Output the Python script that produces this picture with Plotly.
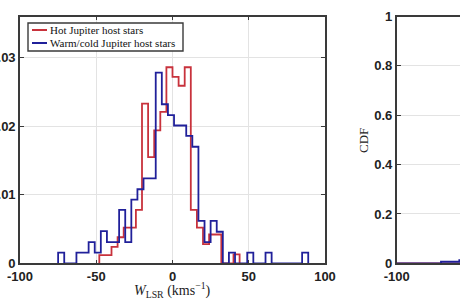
import numpy as np
import plotly.graph_objects as go

# ---------------- data ----------------
bin_width = 4
# Hot Jupiter host stars: left bin edges and density values
red_bin_left = list(range(-48, 44, 4))
red_density = [0.0012, 0.0012, 0.0024, 0.0038, 0.0052, 0.0052, 0.0078,
               0.0233, 0.0155, 0.0194, 0.0221, 0.0286, 0.0272, 0.0259,
               0.0286, 0.0078, 0.0052, 0.0028, 0.0042, 0.0042, 0.0,
               0.0, 0.0013]
# Warm/cold Jupiter host stars
blue_bin_left = list(range(-75, 89, 4))
blue_density = [0.00155, 0.0, 0.0, 0.00155, 0.00155, 0.0031, 0.00155,
                0.0047, 0.0031, 0.0031, 0.0078, 0.0031, 0.0093, 0.0108,
                0.0124, 0.0124, 0.0278, 0.0232, 0.0216, 0.0201, 0.0201,
                0.0186, 0.0170, 0.0062, 0.0031, 0.0062, 0.0046, 0.0,
                0.00155, 0.0, 0.0, 0.00155, 0.0, 0.0, 0.00155, 0.0,
                0.0, 0.0, 0.0, 0.0, 0.00155]

x_ticks = [-100, -50, 0, 50, 100]
x_ticktext = ["-100", "-50", "0", "50", "100"]
x2_ticks = [-100]
x2_ticktext = ["-100"]
y_ticks = [0, 0.01, 0.02, 0.03]
y_ticktext = ["0", "0.01", "0.02", "0.03"]
cdf_ticks = [0, 0.2, 0.4, 0.6, 0.8, 1]
cdf_ticktext = ["0", "0.2", "0.4", "0.6", "0.8", "1"]
legend_names = ["Hot Jupiter host stars", "Warm/cold Jupiter host stars"]

RED = "#c8323c"
BLUE = "#20209a"
AX = "#3a3a3a"
GRID = "#e3e3e3"
W, H = 460, 307


def stairs(lefts, vals):
    edges = list(lefts) + [lefts[-1] + bin_width]
    xs = [edges[0]] + list(lefts) + [edges[-1]]
    ys = [0] + list(vals) + [0]
    return xs, ys


def cdf(lefts, vals):
    edges = list(lefts) + [lefts[-1] + bin_width]
    c = np.cumsum(np.array(vals) * bin_width)
    c = c / c[-1]
    xs = [-100] + edges + [100]
    ys = [0, 0] + list(c) + [1]
    return xs, ys


fig = go.Figure()

rx, ry = stairs(red_bin_left, red_density)
bx, by = stairs(blue_bin_left, blue_density)
fig.add_trace(go.Scatter(x=rx, y=ry, mode="lines", line=dict(color=RED, width=1.8, shape="hv"),
                         name=legend_names[0], showlegend=False, xaxis="x", yaxis="y"))
fig.add_trace(go.Scatter(x=bx, y=by, mode="lines", line=dict(color=BLUE, width=1.8, shape="hv"),
                         name=legend_names[1], showlegend=False, xaxis="x", yaxis="y"))

crx, cry = cdf(red_bin_left, red_density)
cbx, cby = cdf(blue_bin_left, blue_density)
fig.add_trace(go.Scatter(x=crx, y=cry, mode="lines", line=dict(color=RED, width=1.8, shape="hv"),
                         showlegend=False, xaxis="x2", yaxis="y2"))
fig.add_trace(go.Scatter(x=cbx, y=cby, mode="lines", line=dict(color=BLUE, width=1.8, shape="hv"),
                         showlegend=False, xaxis="x2", yaxis="y2"))

tickfont = dict(family="Liberation Sans, Arial", size=13, color="#222222", weight="bold")
ydom = [1 - 263.3 / H, 1 - 16.5 / H]

common = dict(showline=True, linecolor=AX, linewidth=1.6, ticks="inside", ticklen=4,
              tickcolor=AX, tickwidth=1, gridcolor=GRID, gridwidth=1, zeroline=False,
              tickfont=tickfont, automargin=False, showgrid=True)

fig.update_layout(
    template="none",
    width=W, height=H, margin=dict(l=0, r=0, t=0, b=0, pad=0, autoexpand=False),
    paper_bgcolor="white", plot_bgcolor="white",
    xaxis=dict(domain=[20 / W, 325 / W], range=[-100, 100], tickvals=x_ticks, ticktext=x_ticktext,
               mirror="allticks", anchor="y", **common),
    yaxis=dict(domain=ydom, range=[0, 0.036], tickvals=y_ticks, ticktext=y_ticktext,
               mirror="allticks", anchor="x", **common),
    xaxis2=dict(domain=[396.7 / W, 1.0], range=[-100, -100 + (W - 396.7) / 1.527],
                tickvals=x2_ticks, ticktext=x2_ticktext, mirror="allticks", anchor="y2", **common),
    yaxis2=dict(domain=ydom, range=[0, 1], tickvals=cdf_ticks, ticktext=cdf_ticktext,
                mirror=False, anchor="x2", **common),
    showlegend=False,
)


def px(x):
    return x / W


def py(y):
    return 1 - y / H


# legend (drawn manually to match the small MATLAB legend)
fig.add_shape(type="rect", xref="paper", yref="paper", x0=px(28), x1=px(183), y0=py(51), y1=py(23),
              line=dict(color=AX, width=1.4), fillcolor="white", layer="above")
for yy, col in [(30, RED), (43, BLUE)]:
    fig.add_shape(type="line", xref="paper", yref="paper", x0=px(32), x1=px(47), y0=py(yy), y1=py(yy),
                  line=dict(color=col, width=2), layer="above")
for yy, txt in [(30, legend_names[0]), (43, legend_names[1])]:
    fig.add_annotation(xref="paper", yref="paper", x=px(48), y=py(yy), text=txt, showarrow=False,
                       xanchor="left", yanchor="middle",
                       font=dict(family="Liberation Serif, Times New Roman", size=11, color="#111111"))

# axis titles
fig.add_annotation(xref="paper", yref="paper", x=px(172.5), y=py(290),
                   text="<i>W</i><sub>LSR</sub> (kms<sup>−1</sup>)", showarrow=False,
                   xanchor="center", yanchor="middle",
                   font=dict(family="Liberation Serif, Times New Roman", size=14, color="#222222"))
fig.add_annotation(xref="paper", yref="paper", x=px(363), y=py(141), text="CDF", showarrow=False,
                   textangle=-90, xanchor="center", yanchor="middle",
                   font=dict(family="Liberation Serif, Times New Roman", size=13, color="#222222"))

fig.write_html("out.html")
